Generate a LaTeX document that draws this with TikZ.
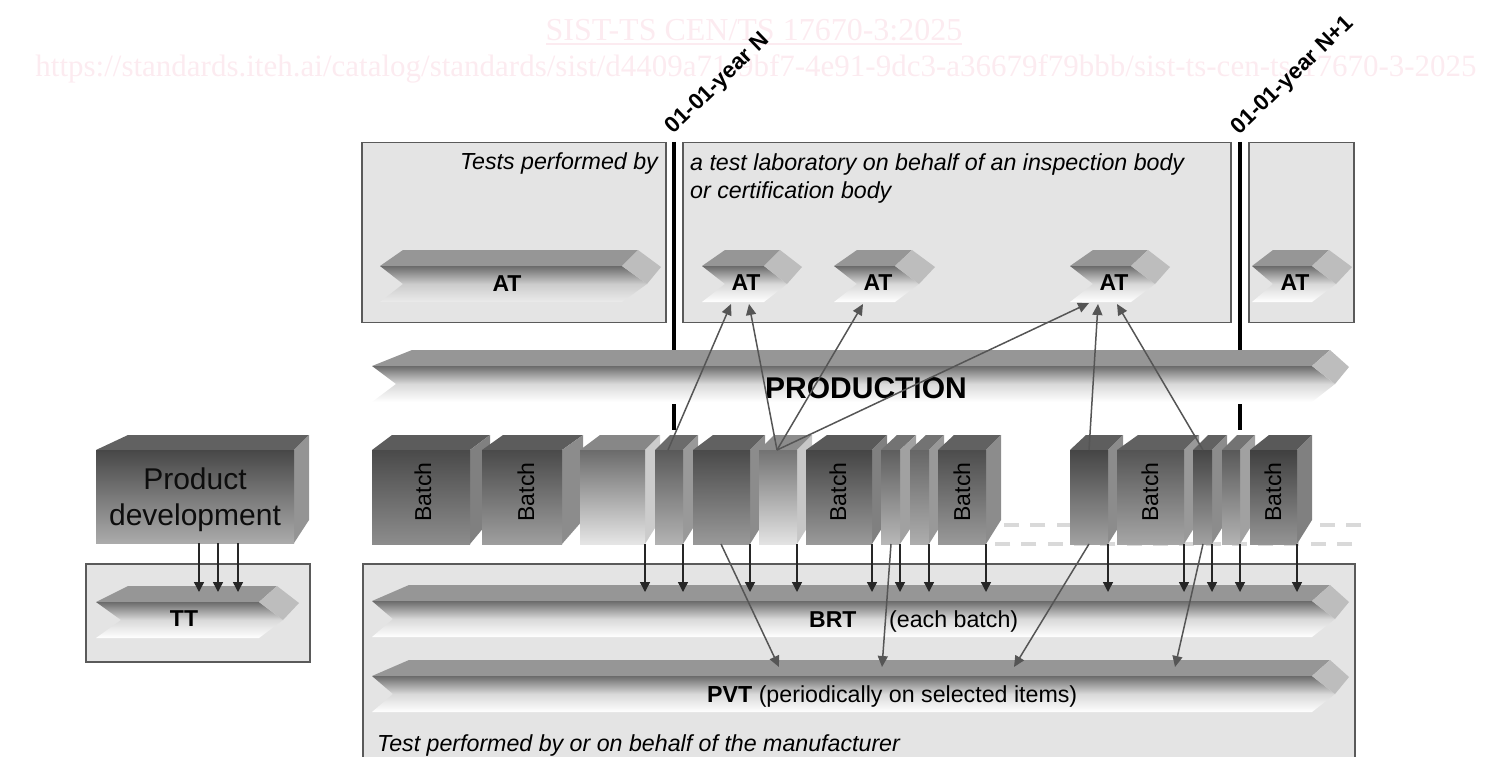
\documentclass[tikz,border=0pt]{standalone}
\usepackage{fontspec}
\setmainfont{Liberation Sans}
\newfontfamily\wmfont{Liberation Serif}
\usetikzlibrary{arrows.meta}
\definecolor{wmpink}{HTML}{FCEBF0}
\definecolor{boxbg}{HTML}{E4E4E4}
\definecolor{boxedge}{HTML}{5A5A5A}
\definecolor{arrgray}{HTML}{555555}
\pgfdeclareverticalshading{ribW}{100bp}{color(0bp)=(white); color(25bp)=(white); color(50bp)=(black!15); color(75bp)=(black!58); color(100bp)=(black!58)}
\pgfdeclareverticalshading{ribA}{100bp}{color(0bp)=(black!8); color(25bp)=(black!8); color(50bp)=(black!20); color(75bp)=(black!58); color(100bp)=(black!58)}
\newcommand\ribbon[9]{%
  \fill[black!41] (#1,#8+16) -- (#2,#8) -- (#5,#8) -- (#4,#8+16) -- cycle;
  \shade[shading=#9,shading angle=0] (#1,#8+16) -- (#4,#8+16) -- (#6,#8+34) -- (#4,#8+52) -- (#1,#8+52) -- (#3,#8+34) -- cycle;
  \fill[black!26] (#4,#8+16) -- (#5,#8) -- (#7,#8+17) -- (#6,#8+34) -- cycle;
}
\newcommand\batchbox[9]{%
  \fill[black!#8] (#2,450) -- (#2+#5,435) -- (#4,435) -- (#3,450) -- cycle;
  \fill[black!#9] (#3,450) -- (#4,435) -- (#4,520) -- (#3,544) -- cycle;
  \shade[top color=black!#6,bottom color=black!#7] (#2,450) rectangle (#3,544);
  \coordinate (#1-d) at (#3,544);
}
\tikzset{
  panel/.style={draw=boxedge,line width=1.5pt,fill=boxbg},
  datebar/.style={line width=4pt,black},
  down/.style={line width=1.4pt,draw=black!85,-{Triangle[length=10pt,width=10pt,fill=black!85]}},
  link/.style={line width=1.5pt,draw=arrgray,-{Triangle[length=11pt,width=10pt,fill=arrgray]}},
  dashline/.style={line width=3.5pt,black!15,dash pattern=on 15pt off 11.3pt},
  tsize/.style={font=\fontsize{23.2}{27}\selectfont},
  bsize/.style={font=\fontsize{23}{27}\selectfont\bfseries},
  itsize/.style={font=\fontsize{23.2}{27}\selectfont\itshape},
  datelab/.style={font=\fontsize{22.5}{27}\selectfont\bfseries,rotate=44},
  batchlab/.style={font=\fontsize{23}{27}\selectfont,rotate=90,text=black},
  wm/.style={text=wmpink,inner sep=0pt}
}
\begin{document}
\begin{tikzpicture}[x=1pt,y=-1pt]
\useasboundingbox (0,0) rectangle (1510,757);
\clip (0,0) rectangle (1510,757);
% watermark
\node[wm,anchor=base,font=\wmfont\fontsize{32}{38}\selectfont] (wm1) at (754,41) {SIST-TS CEN/TS 17670-3:2025};
\node[wm,anchor=base,font=\wmfont\fontsize{31}{38}\selectfont] (wm2) at (756,77) {https://standards.iteh.ai/catalog/standards/sist/d4409a71-9bf7-4e91-9dc3-a36679f79bbb/sist-ts-cen-ts-17670-3-2025};
\fill[wmpink] (546,43.5) rectangle (962,45.5);
% date labels
\node[datelab] (dN) at (718,84) {01-01-year N};
\node[datelab] (dN1) at (1293,76) {01-01-year N+1};
% panels
\node[panel,minimum width=304pt,minimum height=180pt,inner sep=0pt] (p1) at (514,232.5) {};
\node[panel,minimum width=548pt,minimum height=180pt,inner sep=0pt] (p2) at (957,232.5) {};
\node[panel,minimum width=105pt,minimum height=180pt,inner sep=0pt] (p3) at (1301.5,232.5) {};
\node[panel,minimum width=992pt,minimum height=230pt,inner sep=0pt,anchor=north west] (p4) at (362,563) {};
\node[panel,minimum width=224pt,minimum height=98pt,inner sep=0pt,anchor=north west] (p5) at (85,563) {};
% panel texts
\node[itsize,anchor=base east,inner sep=0pt] (t1) at (658,170) {Tests performed by};
\node[itsize,anchor=base west,inner sep=0pt] (t2) at (690,171) {a test laboratory on behalf of an inspection body};
\node[itsize,anchor=base west,inner sep=0pt] (t3) at (690,198) {or certification body};
\node[itsize,anchor=base west,inner sep=0pt] (t4) at (377,751) {Test performed by or on behalf of the manufacturer};
% date bars
\coordinate (barA) at (674,142);
\coordinate (barAm) at (674,352);
\coordinate (barAs) at (674,404);
\coordinate (barAe) at (674,430);
\coordinate (barB) at (1240,142);
\coordinate (barBm) at (1240,352);
\coordinate (barBs) at (1240,404);
\coordinate (barBe) at (1240,430);
\draw[datebar] (barA) -- (barAm);
\draw[datebar] (barAs) -- (barAe);
\draw[datebar] (barB) -- (barBm);
\draw[datebar] (barBs) -- (barBe);
% ribbons
\ribbon{380}{403}{403}{622}{638}{647}{661}{250}{ribA}
\ribbon{702}{725}{725}{764}{780}{787}{802}{250}{ribW}
\ribbon{834}{857}{857}{895}{912}{919}{935}{250}{ribW}
\ribbon{1070}{1093}{1093}{1131}{1148}{1155}{1170}{250}{ribW}
\ribbon{1252}{1273}{1273}{1312}{1329}{1336}{1352}{250}{ribW}
\ribbon{372}{412}{396}{1312}{1330}{1335}{1349}{350}{ribW}
\ribbon{372}{409}{393}{1312}{1330}{1335}{1349}{585}{ribW}
\ribbon{372}{409}{393}{1312}{1330}{1335}{1349}{660}{ribW}
\ribbon{96}{128}{121}{259}{277}{283}{299}{586}{ribW}
% ribbon labels
\node[bsize,inner sep=0pt] (at0) at (507,284) {AT};
\node[bsize,inner sep=0pt] (at1) at (746,283) {AT};
\node[bsize,inner sep=0pt] (at2) at (878,283) {AT};
\node[bsize,inner sep=0pt] (at3) at (1114,283) {AT};
\node[bsize,inner sep=0pt] (at4) at (1295,283) {AT};
\node[font=\fontsize{30}{34}\selectfont\bfseries,inner sep=0pt] (prod) at (866,388) {PRODUCTION};
\node[bsize,inner sep=0pt] (tt) at (184,619) {TT};
\node[bsize,anchor=base west,inner sep=0pt] (brt) at (809,627) {BRT};
\node[tsize,anchor=base west,inner sep=0pt] (brt2) at (889,627) {(each batch)};
\node[tsize,anchor=base west,inner sep=0pt] (pvt) at (707,702) {\textbf{PVT} (periodically on selected items)};
% dashes
\coordinate (dA) at (1361,525);
\coordinate (dAe) at (990,525);
\coordinate (dB) at (1352,544);
\coordinate (dBe) at (990,544);
\draw[dashline] (dA) -- (dAe);
\draw[dashline] (dB) -- (dBe);
% product development
\fill[black!62] (96,450) -- (128,435) -- (309,435) -- (294,450) -- cycle;
\fill[black!42] (294,450) -- (309,435) -- (309,520) -- (294,543) -- cycle;
\shade[top color=black!72,bottom color=black!33] (96,450) rectangle (294,543);
\node[font=\fontsize{30}{36}\selectfont,align=center,inner sep=0pt,text=black!95] (pd) at (195,500) {Product\\development};
% batches
\batchbox{b1}{372}{470}{490}{20}{71}{45}{64}{50}
\batchbox{b2}{482}{562}{583}{21}{71}{38}{64}{45}
\batchbox{b3}{580}{645}{660}{20}{58}{10}{47}{20}
\batchbox{b4}{655}{683}{698}{15}{65}{30}{58}{40}
\batchbox{b5}{693}{750}{765}{20}{71}{40}{62}{45}
\batchbox{b6}{759}{797}{812}{15}{55}{11}{45}{22}
\batchbox{b7}{806}{872}{887}{21}{73}{40}{65}{50}
\batchbox{b8}{881}{900}{916}{16}{63}{28}{55}{37}
\batchbox{b9}{910}{929}{944}{16}{60}{32}{55}{40}
\batchbox{b10}{938}{986}{1001}{16}{70}{40}{62}{45}
\batchbox{b11}{1070}{1108}{1123}{16}{73}{37}{63}{45}
\batchbox{b12}{1117}{1184}{1199}{21}{67}{35}{62}{40}
\batchbox{b13}{1193}{1212}{1227}{15}{73}{37}{62}{45}
\batchbox{b14}{1222}{1240}{1255}{15}{65}{30}{55}{37}
\batchbox{b15}{1250}{1297}{1312}{19}{75}{42}{65}{50}
\node[batchlab,inner sep=0pt] (l1) at (423,492) {Batch};
\node[batchlab,inner sep=0pt] (l2) at (526,492) {Batch};
\node[batchlab,inner sep=0pt] (l3) at (838,492) {Batch};
\node[batchlab,inner sep=0pt] (l4) at (962,492) {Batch};
\node[batchlab,inner sep=0pt] (l5) at (1150,492) {Batch};
\node[batchlab,inner sep=0pt] (l6) at (1273,492) {Batch};
% down arrows
\coordinate (brtline) at (0,592);
\foreach \b in {b3,b4,b5,b6,b7,b8,b9,b10,b11,b12,b13,b14,b15}
  \draw[down] (\b-d) -- (\b-d |- brtline);
\coordinate (pd1) at (199,543); \coordinate (pd2) at (218,543); \coordinate (pd3) at (238,543);
\foreach \p in {pd1,pd2,pd3}
  \draw[down] (\p) -- (\p |- brtline);
% links
\coordinate (s4) at (668,450);
\coordinate (s6) at (777,450);
\coordinate (s11) at (1089,450);
\coordinate (s13) at (1203,450);
\coordinate (e1a) at (731,304);
\coordinate (e1b) at (749,304);
\coordinate (e2) at (863,304);
\coordinate (e3a) at (1089,303);
\coordinate (e3b) at (1098,304);
\coordinate (e3c) at (1117,304);
\draw[link] (s4) -- (e1a);
\draw[link] (s6) -- (e1b);
\draw[link] (s6) -- (e2);
\draw[link] (s6) -- (e3a);
\draw[link] (s11) -- (e3b);
\draw[link] (s13) -- (e3c);
\coordinate (q5) at (721,544);
\coordinate (q8) at (891,544);
\coordinate (q11) at (1089,544);
\coordinate (q13) at (1203,544);
\coordinate (v1) at (779,667);
\coordinate (v2) at (882,667);
\coordinate (v3) at (1014,667);
\coordinate (v4) at (1175,667);
\draw[link] (q5) -- (v1);
\draw[link] (q8) -- (v2);
\draw[link] (q11) -- (v3);
\draw[link] (q13) -- (v4);
\end{tikzpicture}
\end{document}
